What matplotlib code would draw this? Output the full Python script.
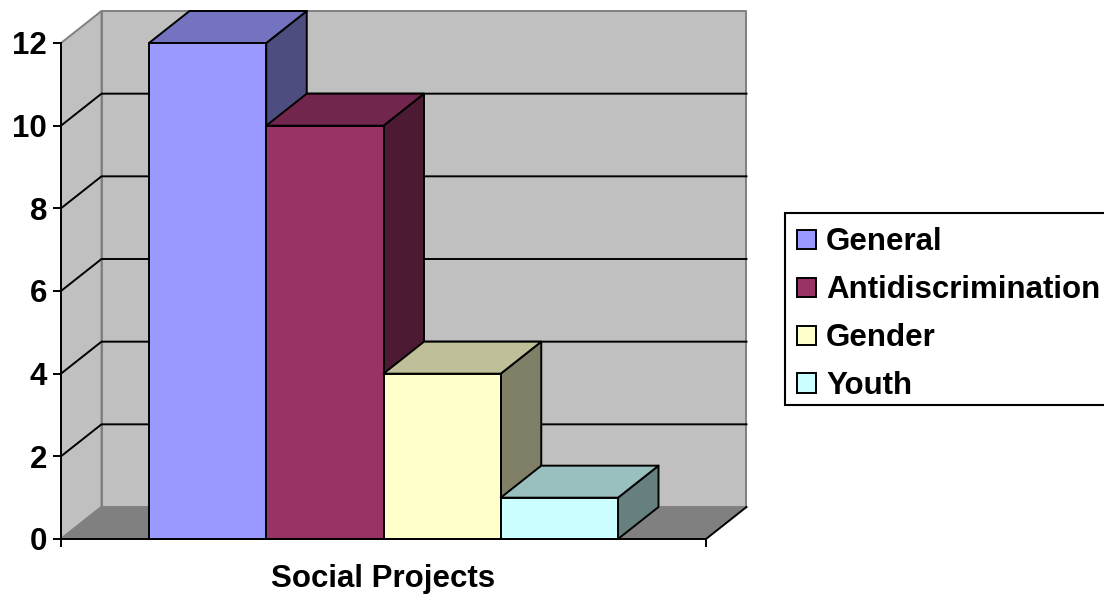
import matplotlib
matplotlib.use('Agg')
import matplotlib.pyplot as plt
from matplotlib.patches import Polygon, Patch, Rectangle

categories = ['General', 'Antidiscrimination', 'Gender', 'Youth']
values = [12, 10, 4, 1]
colors = ['#9999FF', '#993366', '#FFFFCC', '#CCFFFF']
yticks = [0, 2, 4, 6, 8, 10, 12]
group_label = 'Social Projects'

W, H = 1104, 597
plt.rcParams['font.family'] = ['Liberation Sans', 'DejaVu Sans']
plt.rcParams['font.weight'] = 'bold'

fig = plt.figure(figsize=(W / 100, H / 100), dpi=100)

# front plane of the 3d box, in pixels
left, right, bottom, top = 61, 706, 539, 43
ax = fig.add_axes([left / W, 1 - bottom / H, (right - left) / W, (bottom - top) / H])

bar_w_px = (618 - 149) / 4.
x0 = -(149 - left) / bar_w_px
x1 = x0 + (right - left) / bar_w_px
ax.set_xlim(x0, x1)
ax.set_ylim(0, 12)

# depth offset in data units
dx = 40.5 / bar_w_px
dy = 32. / ((bottom - top) / 12.)

lw = 1.4
dark = '#000000'
wall_edge = '#808080'
fs = 22.5


def shade(c, f):
    rgb = matplotlib.colors.to_rgb(c)
    return tuple(v * f for v in rgb)


def poly(pts, fc, ec, z):
    ax.add_patch(Polygon(pts, closed=True, facecolor=fc, edgecolor=ec, linewidth=lw,
                         clip_on=False, zorder=z, joinstyle='round'))


ymax = yticks[-1]

# walls and floor
poly([(x0, 0), (x0 + dx, dy), (x0 + dx, ymax + dy), (x0, ymax)], '#C0C0C0', wall_edge, 1)
poly([(x0 + dx, dy), (x1 + dx, dy), (x1 + dx, ymax + dy), (x0 + dx, ymax + dy)], '#C0C0C0', wall_edge, 1)
poly([(x0, 0), (x1, 0), (x1 + dx, dy), (x0 + dx, dy)], '#808080', 'none', 1.5)
ax.plot([x0, x0 + dx], [0, dy], color=wall_edge, lw=lw, clip_on=False, zorder=1.6)
ax.plot([x1, x1 + dx], [0, dy], color=dark, lw=lw, clip_on=False, zorder=1.6)

# gridlines run round the side wall and along the back
for t in yticks[1:-1]:
    ax.plot([x0, x0 + dx, x1 + dx], [t, t + dy, t + dy], color=dark, lw=lw,
            clip_on=False, zorder=2)

# bars, left to right so each one covers the side of the one before
for i, (v, c) in enumerate(zip(values, colors)):
    z = 3 + i
    poly([(i + 1, 0), (i + 1 + dx, dy), (i + 1 + dx, v + dy), (i + 1, v)], shade(c, 0.5), dark, z)
    poly([(i, v), (i + 1, v), (i + 1 + dx, v + dy), (i + dx, v + dy)], shade(c, 0.75), dark, z)
    ax.bar(i, v, width=1, align='edge', color=c, edgecolor=dark, linewidth=lw, zorder=z, clip_on=False)

ax.patch.set_visible(False)
for s in ['top', 'right']:
    ax.spines[s].set_visible(False)
for s in ['left', 'bottom']:
    ax.spines[s].set_linewidth(lw)
    ax.spines[s].set_zorder(10)

ax.set_yticks(yticks)
ax.set_xticks([x0, x1])
ax.set_xticklabels(['', ''])
ax.tick_params(axis='both', length=5.5, width=lw, color=dark)
ax.tick_params(axis='y', labelsize=fs, pad=4.5)
ax.set_xlabel(group_label, fontsize=fs, fontweight='bold', labelpad=9)

# legend box runs off the right edge of the picture
fig.add_artist(Rectangle((785 / W, 1 - 405 / H), 330 / W, 192 / H, transform=fig.transFigure,
                         facecolor='white', edgecolor=dark, linewidth=1.5))

handles = [Patch(facecolor=c, edgecolor=dark, linewidth=lw) for c in colors]
leg = fig.legend(handles, categories, loc='upper left',
                 bbox_to_anchor=(797 / W, 1 - 227.5 / H), bbox_transform=fig.transFigure,
                 fontsize=fs, frameon=False,
                 borderaxespad=0, borderpad=0, handlelength=0.6, handleheight=0.6,
                 handletextpad=0.33, labelspacing=0.575)

plt.savefig('out.png', dpi=100)
